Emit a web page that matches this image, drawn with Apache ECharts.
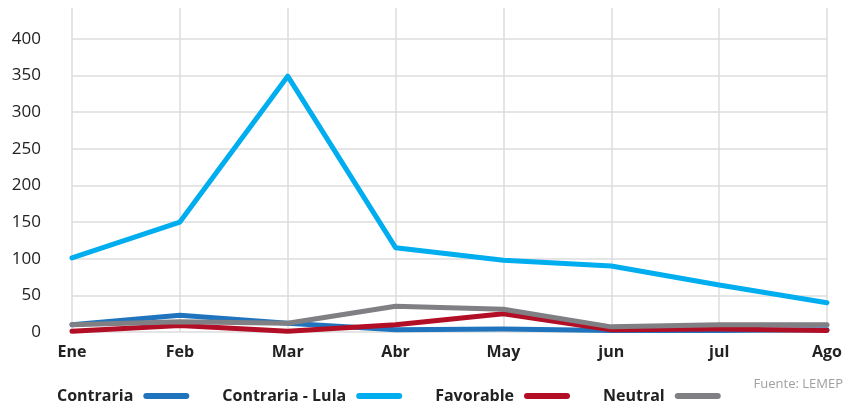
<!DOCTYPE html>
<html>
<head>
<meta charset="utf-8">
<script src="https://cdn.jsdelivr.net/npm/echarts@6/dist/echarts.min.js"></script>
<style>
  html, body { margin: 0; padding: 0; background: #fff; }
  #chart { width: 847px; height: 408px; }
</style>
</head>
<body>
<div id="chart"></div>
<script>
var months = ['Ene', 'Feb', 'Mar', 'Abr', 'May', 'jun', 'jul', 'Ago']
var contraria = [10, 23, 12, 3, 4, 2, 2, 3]
var contrariaLula = [101, 150, 349, 115, 98, 90, 64, 40]
var favorable = [1, 9, 1, 10, 25, 3, 4, 2]
var neutral = [10, 14, 12, 35, 31, 7, 10, 10]

var pill = 'path://M3,0 L43,0 A3,3 0 0 1 43,6 L3,6 A3,3 0 0 1 3,0 Z'
var font = '"Open Sans", "Noto Sans", sans-serif'

function line(name, data, color) {
  return {
    name: name,
    type: 'line',
    data: data,
    symbol: 'none',
    smooth: false,
    lineStyle: { color: color, width: 5, cap: 'round', join: 'round' },
    itemStyle: { color: color }
  }
}

var chart = echarts.init(document.getElementById('chart'))
chart.setOption({
  animation: false,
  textStyle: { fontFamily: font },
  grid: { left: 72, right: 20, top: 8, bottom: 76 },
  legend: {
    top: 383,
    left: 52,
    align: 'right',
    icon: pill,
    itemWidth: 46,
    itemHeight: 6,
    itemGap: 33,
    textStyle: { fontSize: 16, fontWeight: 'bold', color: '#222', fontFamily: font, padding: [0, 5, 0, 0] },
    data: ['Contraria', 'Contraria - Lula', 'Favorable', 'Neutral']
  },
  graphic: [{
    type: 'text',
    right: 4,
    top: 378,
    style: { text: 'Fuente: LEMEP', fontSize: 13, fill: '#a0a0a0', fontFamily: font }
  }],
  xAxis: {
    type: 'category',
    data: months,
    boundaryGap: false,
    axisLine: { show: false },
    axisTick: { show: false },
    axisLabel: { fontSize: 16, fontWeight: 'bold', color: '#222', margin: 12 },
    splitLine: { show: true, lineStyle: { color: '#dcdcdc', width: 1.5 } }
  },
  yAxis: {
    type: 'value',
    min: 0,
    max: 442,
    interval: 50,
    axisLine: { show: false },
    axisTick: { show: false },
    axisLabel: {
      fontSize: 17, color: '#222', margin: 31, showMaxLabel: false,
      formatter: function (v) { return v % 50 === 0 ? v : '' }
    },
    splitLine: { show: true, showMaxLine: false, lineStyle: { color: '#dcdcdc', width: 1.5 } }
  },
  series: [
    line('Contraria', contraria, '#1f74bd'),
    line('Contraria - Lula', contrariaLula, '#00aeef'),
    line('Favorable', favorable, '#b20e26'),
    line('Neutral', neutral, '#808084')
  ]
})
</script>
</body>
</html>
